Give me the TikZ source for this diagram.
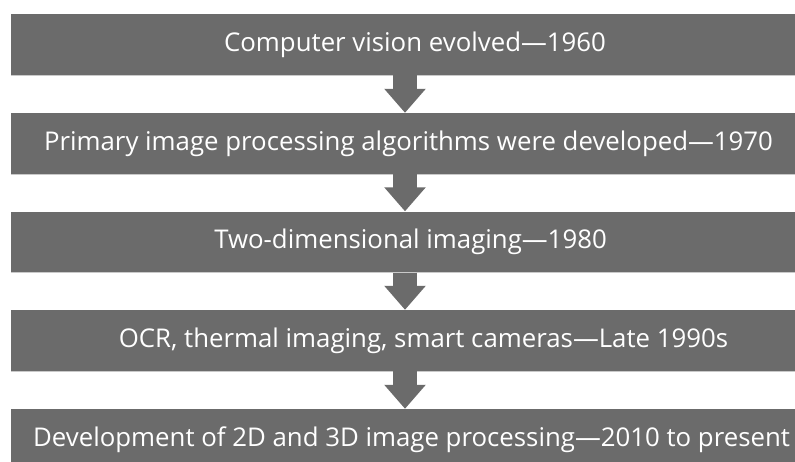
\documentclass[tikz,border=0pt]{standalone}
\usepackage{fontspec}
\setmainfont{Open Sans}
\usetikzlibrary{arrows.meta}
\definecolor{boxgray}{HTML}{6B6B6B}
\definecolor{edgegray}{HTML}{C9C9C9}
\tikzset{
  stage/.style={fill=boxgray, text=white, minimum width=784pt, minimum height=61pt,
    inner sep=0pt, font=\fontsize{25.8}{30}\selectfont},
  flow/.style={draw=boxgray, line width=24pt,
    -{Triangle[width=40pt,length=24pt]}},
  rim/.style={draw=edgegray, line width=1pt}
}
\begin{document}
\begin{tikzpicture}[x=1pt,y=1pt]
  \useasboundingbox (0,0) rectangle (795,-461);
  \fill[white] (0,0) rectangle (795,-461);
  \begin{scope}
    \clip (0,0) rectangle (795,-461);
    \node[stage] (s1) at (403,-44.5) {\hspace*{24pt}Computer vision evolved—1960};
    \node[stage] (s2) at (403,-143.5) {\hspace*{11pt}Primary image processing algorithms were developed—1970};
    \node[stage] (s3) at (403,-242) {\hspace*{15pt}Two-dimensional imaging—1980};
    \node[stage] (s4) at (403,-340.5) {\hspace*{41pt}OCR, thermal imaging, smart cameras—Late 1990s};
    \node[stage] (s5) at (403,-439.5) {\hspace*{17pt}Development of 2D and 3D image processing—2010 to present};
    \foreach \s in {s1,s2,s3,s4}
      \draw[rim] (\s.south west) -- (\s.south east);
    \foreach \a/\b in {s1/s2,s2/s3,s3/s4,s4/s5}
      \draw[flow] ([xshift=2pt]\a.south) -- ([xshift=2pt]\b.north);
  \end{scope}
\end{tikzpicture}
\end{document}
